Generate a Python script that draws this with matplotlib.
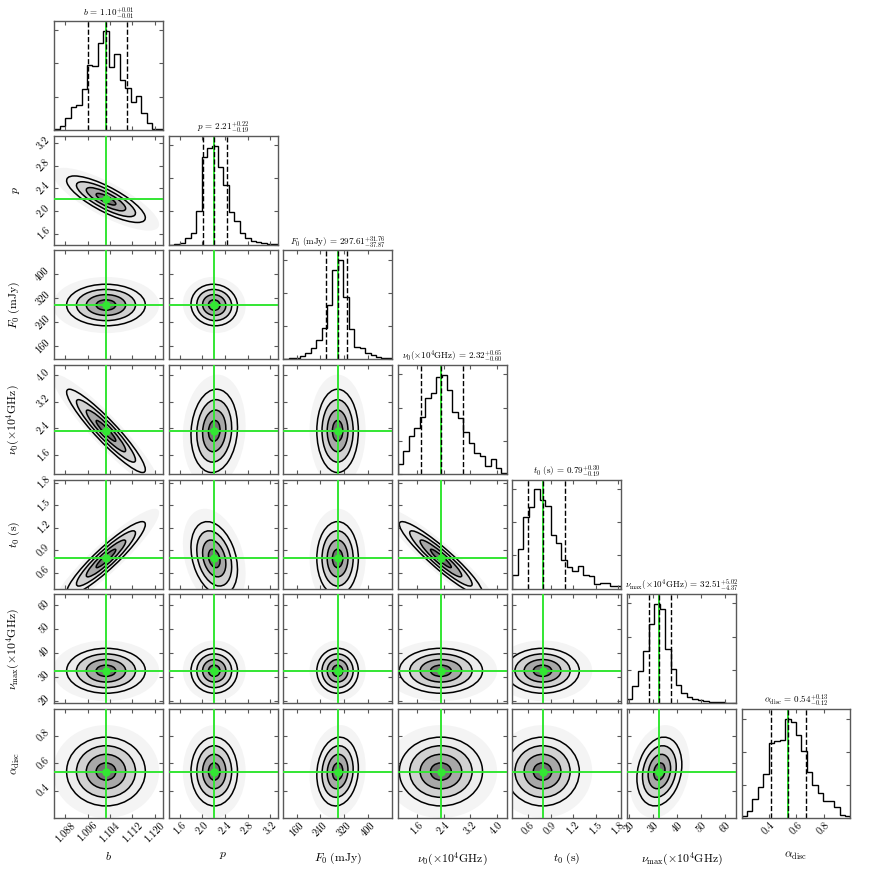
import numpy as np
import matplotlib
matplotlib.use("Agg")
import matplotlib.pyplot as plt
from matplotlib.patches import Ellipse
from matplotlib.ticker import MaxNLocator

plt.rcParams['font.family'] = 'serif'
plt.rcParams['font.serif'] = ['cmr10', 'DejaVu Serif']
plt.rcParams['mathtext.fontset'] = 'cm'
plt.rcParams['axes.formatter.use_mathtext'] = True
plt.rcParams['axes.unicode_minus'] = False

# ---------------- data ----------------
labels = [r'$b$', r'$p$', r'$F_0\ (\mathrm{mJy})$', r'$\nu_0(\times 10^4\mathrm{GHz})$',
          r'$t_0\ (\mathrm{s})$', r'$\nu_{\mathrm{max}}(\times 10^4\mathrm{GHz})$', r'$\alpha_{\mathrm{disc}}$']

medians = [1.1026, 2.21, 297.61, 2.32, 0.79, 32.51, 0.54]
err_lo = [0.0066, 0.19, 37.87, 0.60, 0.19, 4.37, 0.12]
err_hi = [0.0075, 0.22, 31.76, 0.65, 0.30, 5.02, 0.13]

ranges = [(1.0841, 1.1231), (1.41, 3.33), (116.0, 481.0), (1.03, 4.30),
          (0.39, 1.84), (19.0, 64.5), (0.204, 0.996)]

ticks = [[1.088, 1.096, 1.104, 1.112, 1.120],
         [1.6, 2.0, 2.4, 2.8, 3.2],
         [160, 240, 320, 400],
         [1.6, 2.4, 3.2, 4.0],
         [0.6, 0.9, 1.2, 1.5, 1.8],
         [20, 30, 40, 50, 60],
         [0.4, 0.6, 0.8]]
tick_labels = [["1.088", "1.096", "1.104", "1.112", "1.120"],
               ["1.6", "2.0", "2.4", "2.8", "3.2"],
               ["160", "240", "320", "400"],
               ["1.6", "2.4", "3.2", "4.0"],
               ["0.6", "0.9", "1.2", "1.5", "1.8"],
               ["20", "30", "40", "50", "60"],
               ["0.4", "0.6", "0.8"]]

hist_b = [2, 12, 35, 68, 74, 123, 196, 192, 260, 297, 190, 227, 150, 125, 85, 102, 50, 20, 2, 2]
hist_p = [0, 1, 5, 19, 34, 102, 262, 289, 297, 234, 179, 99, 72, 34, 19, 10, 8, 5, 3, 1]
hist_F0 = [2, 3, 5, 10, 20, 33, 58, 93, 163, 268, 298, 188, 91, 38, 33, 18, 12, 8, 5, 3]
hist_nu0 = [30, 69, 114, 137, 172, 230, 243, 292, 299, 252, 187, 170, 125, 92, 64, 55, 24, 44, 19, 4]
hist_t0 = [40, 120, 215, 245, 298, 265, 248, 160, 137, 85, 65, 53, 68, 40, 37, 15, 17, 18, 7, 8]
hist_numax = [11, 51, 98, 156, 238, 298, 283, 163, 103, 56, 30, 18, 11, 8, 5, 3, 2, 2, 1, 1]
hist_alpha = [4, 19, 57, 94, 134, 227, 232, 237, 300, 290, 252, 202, 140, 100, 74, 52, 50, 32, 9, 4]
hists = [hist_b, hist_p, hist_F0, hist_nu0, hist_t0, hist_numax, hist_alpha]

# pairwise correlation (lower triangle, row i = y parameter, column j = x parameter)
corr_p = [-0.80]
corr_F0 = [0.00, -0.05]
corr_nu0 = [-0.93, 0.10, 0.00]
corr_t0 = [0.92, -0.30, 0.00, -0.93]
corr_numax = [0.00, 0.00, 0.00, 0.00, 0.00]
corr_alpha = [0.00, 0.00, 0.10, 0.00, 0.00, 0.20]
corr_rows = [[], corr_p, corr_F0, corr_nu0, corr_t0, corr_numax, corr_alpha]

sigma_levels = [2.0, 1.5, 1.0, 0.5]
# ---------------- style ----------------
GREEN = '#33e633'
SPINE = '0.35'
fills = ['0.93', '0.82', '0.66', '0.45']
n = len(labels)

fig = plt.figure(figsize=(8.72, 8.72), dpi=100)
axes = fig.subplots(n, n, gridspec_kw=dict(left=0.0623, right=0.9753, bottom=0.0622,
                                           top=0.9759, wspace=0.052, hspace=0.052))


def style(ax):
    for sp in ax.spines.values():
        sp.set_color(SPINE)
        sp.set_linewidth(1.0)
    ax.tick_params(direction='in', top=True, right=True, length=3, width=0.8,
                   color=SPINE, labelsize=7.5, pad=2)


def ellipses(ax, mx, my, sx, sy, rho):
    cov = np.array([[sx * sx, rho * sx * sy], [rho * sx * sy, sy * sy]])
    vals, vecs = np.linalg.eigh(cov)
    angle = np.degrees(np.arctan2(vecs[1, 1], vecs[0, 1]))
    ax.add_patch(Ellipse((mx, my), 2 * 2.7 * np.sqrt(vals[1]), 2 * 2.7 * np.sqrt(vals[0]),
                         angle=angle, fc='0.955', ec='none', zorder=1))
    for k, fc in zip(sigma_levels, fills):
        ax.add_patch(Ellipse((mx, my), 2 * k * np.sqrt(vals[1]), 2 * k * np.sqrt(vals[0]),
                             angle=angle, fc=fc, ec='k', lw=1.1, zorder=2))


for i in range(n):
    for j in range(n):
        ax = axes[i, j]
        if j > i:
            ax.set_visible(False)
            continue
        style(ax)
        ax.set_xlim(*ranges[j])
        ax.set_xticks(ticks[j])
        if i == j:
            counts = hists[i]
            edges = np.linspace(ranges[i][0], ranges[i][1], len(counts) + 1)
            ax.stairs(counts, edges, color='k', lw=1.0, baseline=0)
            ax.set_ylim(0, 1.1 * max(counts))
            ax.yaxis.set_major_locator(MaxNLocator(4))
            ax.tick_params(labelleft=False)
            m = medians[i]
            q = [m - err_lo[i], m, m + err_hi[i]]
            ax.axvline(m, color=GREEN, lw=1.4, zorder=1)
            for v in q:
                ax.axvline(v, color='k', ls='--', lw=1.0, zorder=2)
            title = (labels[i] + r' = $' + f'{m:.2f}' + r'^{+' + f'{err_hi[i]:.2f}' +
                     r'}_{-' + f'{err_lo[i]:.2f}' + r'}$')
            ax.set_title(title, fontsize=6.5, pad=4)
        else:
            ax.set_ylim(*ranges[i])
            ax.set_yticks(ticks[i])
            sx = 0.5 * (err_lo[j] + err_hi[j])
            sy = 0.5 * (err_lo[i] + err_hi[i])
            ellipses(ax, medians[j], medians[i], sx, sy, corr_rows[i][j])
            ax.axvline(medians[j], color=GREEN, lw=1.4, zorder=3)
            ax.axhline(medians[i], color=GREEN, lw=1.4, zorder=3)
            ax.plot([medians[j]], [medians[i]], 'o', color=GREEN, ms=5, zorder=4)
            if j == 0:
                ax.set_yticklabels(tick_labels[i], rotation=45, va='center')
                ax.set_ylabel(labels[i], fontsize=8.5)
                ax.yaxis.set_label_coords(-0.3, 0.5)
            else:
                ax.tick_params(labelleft=False)
        if i == n - 1:
            ax.set_xticklabels(tick_labels[j], rotation=45)
            ax.set_xlabel(labels[j], fontsize=8.5)
            ax.xaxis.set_label_coords(0.5, -0.3)
        else:
            ax.tick_params(labelbottom=False)

fig.savefig('out.png', dpi=100)
